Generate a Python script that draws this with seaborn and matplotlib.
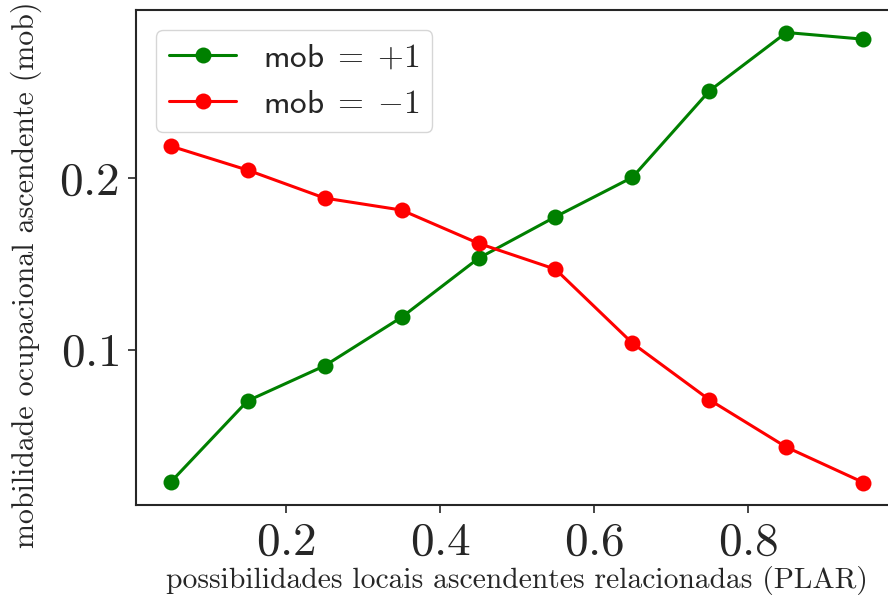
import matplotlib
matplotlib.use("Agg")
import matplotlib.pyplot as plt
import seaborn as sns

plar = [0.05, 0.15, 0.25, 0.35, 0.45, 0.55, 0.65, 0.75, 0.85, 0.95]
mob_up = [0.0229, 0.0703, 0.0907, 0.1190, 0.1534, 0.1776, 0.2006, 0.2510, 0.2850, 0.2811]
mob_down = [0.2188, 0.2048, 0.1885, 0.1815, 0.1621, 0.1470, 0.1039, 0.0709, 0.0433, 0.0227]

sns.set_style("ticks")
plt.rcParams["font.family"] = "serif"
plt.rcParams["font.serif"] = ["cmr10"]
plt.rcParams["mathtext.fontset"] = "cm"
plt.rcParams["axes.unicode_minus"] = False
plt.rcParams["axes.formatter.use_mathtext"] = True

fig = plt.figure(figsize=(8.88, 6), dpi=100)
ax = fig.add_axes([136 / 888, 95 / 600, 762 / 888, 495 / 600])

sns.lineplot(x=plar, y=mob_up, ax=ax, color="green", marker="o", markersize=11.5,
             markeredgewidth=0, linewidth=2.2, label=r"$\mathsf{mob}\;=\;{+1}$")
sns.lineplot(x=plar, y=mob_down, ax=ax, color="red", marker="o", markersize=11.5,
             markeredgewidth=0, linewidth=2.2, label=r"$\mathsf{mob}\;=\;{-1}$")

ax.set_xticks([0.2, 0.4, 0.6, 0.8])
ax.set_yticks([0.1, 0.2])
ax.tick_params(labelsize=34, length=6, width=1.2, pad=6)
for s in ax.spines.values():
    s.set_linewidth(1.5)
ax.set_xlabel("possibilidades locais ascendentes relacionadas (PLAR)", fontsize=21.3, labelpad=2)
ax.set_ylabel("mobilidade ocupacional ascendente (mob)", fontsize=21.5)
ax.yaxis.set_label_coords(-0.123, 0.465)
ax.legend(loc="upper left", fontsize=24, handlelength=2.0, borderaxespad=0.6)

fig.savefig("out.png", dpi=100)
